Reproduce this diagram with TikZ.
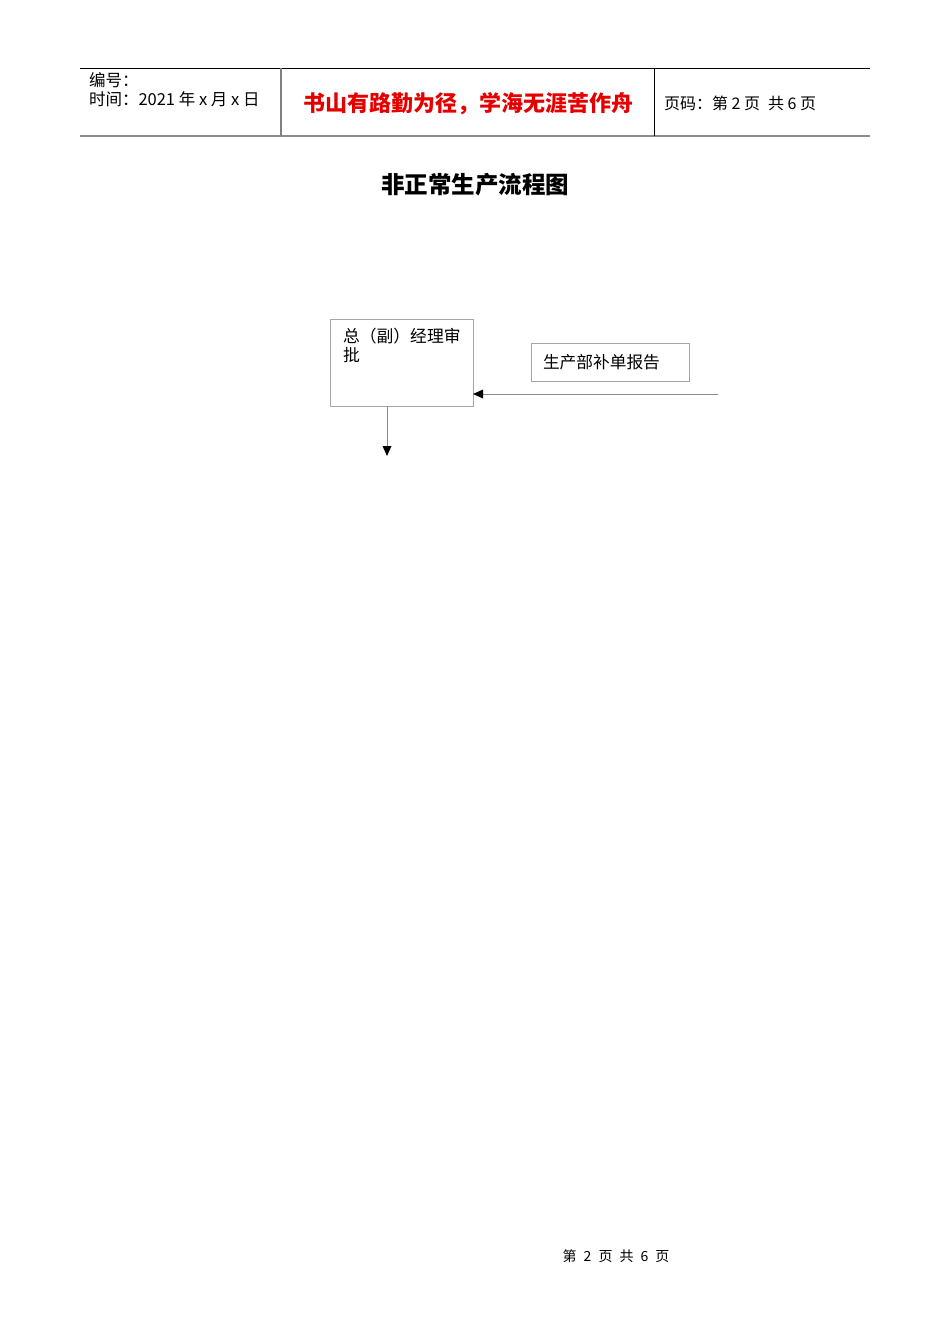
\documentclass[tikz,border=0pt]{standalone}
\usepackage{fontspec}
\setmainfont{Noto Sans CJK SC}
\usetikzlibrary{positioning,arrows.meta}

\begin{document}
\begin{tikzpicture}[x=1pt, y=-1pt, font=\fontsize{16.5}{19}\selectfont]
        \tikzstyle{every node}=[inner sep=0pt, outer sep=0pt]
        \tikzstyle{stepbox}=[draw=black!35, line width=0.8pt, rectangle]
        \tikzstyle{flow}=[draw=black!45, line width=0.6pt, -{Triangle[length=10pt, width=9pt, fill=black, line width=0pt]}]
        \useasboundingbox[fill=white] (0,0) rectangle (950,1344);
        % header table
        \draw[line width=0.8pt] (80,68) -- (870,68);
        \draw[black!45, line width=1.6pt] (80,136) -- (870,136);
        \draw[black!50, line width=1.2pt] (281,68) -- (281,136);
        \draw[line width=0.8pt] (654,68) -- (654,136);
        \node[anchor=west] (code) at (89,80) {编号：};
        \node[anchor=west] (date) at (89,99) {时间：2021 年 x 月 x 日};
        \node[text=red!90!black, font=\fontsize{22}{26}\selectfont\bfseries] (motto) at (468,104) {书山有路勤为径，学海无涯苦作舟};
        \node[anchor=west, font=\fontsize{16}{19}\selectfont] (page) at (664,103) {页码：第 2 页\enspace 共 6 页};
        % title
        \node[font=\fontsize{23.5}{28}\selectfont\bfseries] (title) at (475,185) {非正常生产流程图};
        % boxes
        \node[stepbox, minimum width=143pt, minimum height=87pt] (approve) at (401.5,362.5) {};
        \node[anchor=north west, align=left, font=\fontsize{16.8}{19}\selectfont] (approvetxt) at ([shift={(13,9.5)}]approve.north west) {总（副）经理审\\批};
        \node[stepbox, minimum width=158pt, minimum height=38pt] (report) at (610,362) {};
        \node[anchor=west, font=\fontsize{16.7}{19}\selectfont] (reporttxt) at ([xshift=12pt]report.west) {生产部补单报告};
        \coordinate (inflow) at (718,394);
        \coordinate (outflow) at (387,456);
        \draw[flow] (inflow) -- (approve.east |- inflow);
        \draw[flow] (approve.south -| outflow) -- (outflow);
        % footer
        \node[font=\fontsize{14}{16}\selectfont] (footer) at (616,1256) {第\hspace{7pt}2\hspace{7pt}页\hspace{7pt}共\hspace{7pt}6\hspace{7pt}页};
\end{tikzpicture}
\end{document}
